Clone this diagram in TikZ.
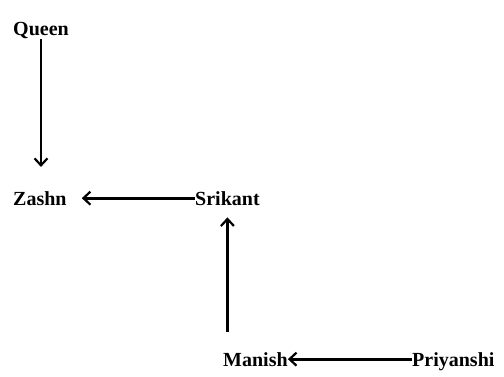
\documentclass[tikz,border=0pt]{standalone}
\usepackage{fontspec}
\setmainfont{Liberation Serif}
\usetikzlibrary{arrows.meta}
\begin{document}
\begin{tikzpicture}[x=1pt,y=1pt,
  person/.style={anchor=base west,inner sep=0pt,font=\fontsize{20}{22}\selectfont\bfseries},
  conn/.style={line width=2.8pt,-{Straight Barb[length=7pt,width=13pt,line width=2.2pt]}},
  thinconn/.style={conn,line width=1.3pt}]
\useasboundingbox[fill=white] (0,0) rectangle (504,376);
\node[person] (queen) at (13,341) {Queen};
\node[person] (zashn) at (13,171) {Zashn};
\node[person] (srikant) at (195,171) {Srikant};
\node[person] (manish) at (223,10) {Manish};
\node[person] (priyanshi) at (412,10) {Priyanshi};
\draw[thinconn,shorten <=1pt,shorten >=24pt] (queen.south) -- (queen.south |- zashn.north);
\draw[conn,shorten >=15pt] (srikant.west) -- (zashn.east);
\draw[conn,shorten <=20pt,shorten >=12pt] (srikant.south |- manish.north) -- (srikant.south);
\draw[conn] (manish.east -| priyanshi.west) -- (manish.east);
\end{tikzpicture}
\end{document}
